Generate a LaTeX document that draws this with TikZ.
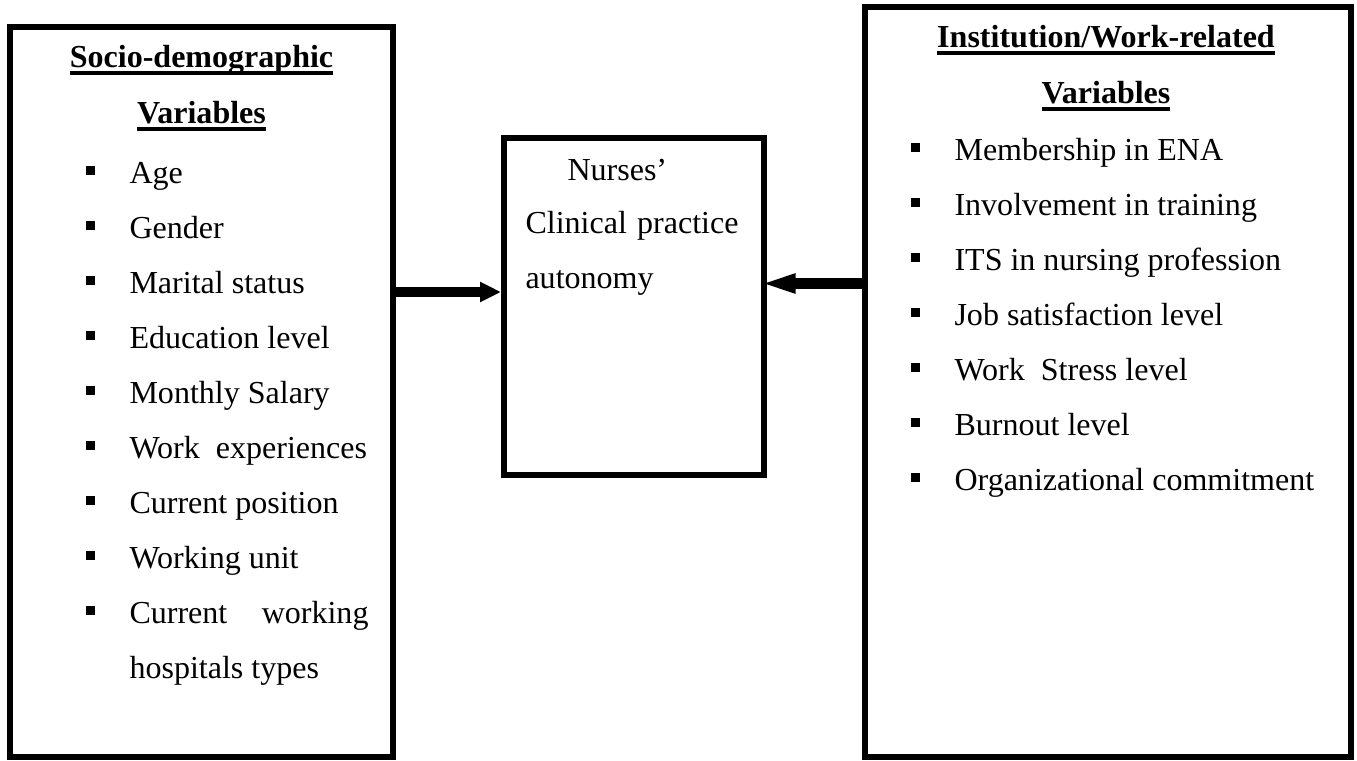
\documentclass[tikz,border=0pt]{standalone}
\usepackage{fontspec}
\setmainfont{Liberation Serif}
\usetikzlibrary{arrows.meta}
\newlength\px
\setlength\px{0.3871pt}
% underline at a fixed depth, through the descenders, as the word processor does
\newcommand{\ulined}[1]{\setbox0\hbox{#1}\rlap{\rule[-7.5\px]{\wd0}{4\px}}\box0}
\newcommand{\itm}{\rule[8\px]{9\px}{9\px}\hspace{35\px}}
\tikzset{
  box/.style={draw,line width=6\px,inner sep=0pt},
  txt/.style={anchor=base west,inner sep=0pt,font=\fontsize{12.4}{14}\selectfont},
  ttl/.style={anchor=base,inner sep=0pt,font=\fontsize{12.4}{14}\selectfont\bfseries},
}
\begin{document}
\begin{tikzpicture}[x=\px,y=-\px]
  \useasboundingbox (0,0) rectangle (1357,760);
  % the three boxes
  \node[box,minimum width=383\px,minimum height=730.5\px] (socio) at (201.5,391.75) {};
  \node[box,minimum width=259.5\px,minimum height=337.5\px] (nca) at (633.75,306.25) {};
  \node[box,minimum width=486\px,minimum height=750.5\px] (work) at (1108,381.75) {};
  % left box
  \node[ttl] (sdt1) at (201.5,67) {\ulined{Socio-demographic}};
  \node[ttl] (sdt2) at (201.5,123) {\ulined{Variables}};
  \node[txt] (sd1) at (85,183) {\itm Age};
  \node[txt] (sd2) at (85,238) {\itm Gender};
  \node[txt] (sd3) at (85,293) {\itm Marital status};
  \node[txt] (sd4) at (85,348) {\itm Education level};
  \node[txt] (sd5) at (85,403) {\itm Monthly Salary};
  \node[txt] (sd6) at (85,458) {\itm Work\ \ experiences};
  \node[txt] (sd7) at (85,513) {\itm Current position};
  \node[txt] (sd8) at (85,568) {\itm Working unit};
  \node[txt] (sd9) at (85,623) {\itm \makebox[239\px][s]{Current working}};
  \node[txt] (sd10) at (129,678) {hospitals types};
  % middle box
  \node[txt] (nca1) at (567,180) {Nurses’};
  \node[txt] (nca2) at (525,233) {\makebox[213\px][s]{Clinical practice}};
  \node[txt] (nca3) at (525,288) {autonomy};
  % right box
  \node[ttl] (wrt1) at (1106,47) {\ulined{Institution/Work-related}};
  \node[ttl] (wrt2) at (1106,103) {\ulined{Variables}};
  \node[txt] (wr1) at (910,160) {\itm Membership in ENA};
  \node[txt] (wr2) at (910,215) {\itm Involvement in training};
  \node[txt] (wr3) at (910,270) {\itm ITS in nursing profession};
  \node[txt] (wr4) at (910,325) {\itm Job satisfaction level};
  \node[txt] (wr5) at (910,380) {\itm Work\ \ Stress level};
  \node[txt] (wr6) at (910,435) {\itm Burnout level};
  \node[txt] (wr7) at (910,490) {\itm Organizational commitment};
  % arrows
  \draw[line width=3.87pt,-{Triangle[length=8.13pt,width=7.35pt]}] (socio.east |- 0,292) -- (nca.west |- 0,292);
  \draw[line width=4.26pt,-{Triangle[length=14.32pt,width=6.58pt]}] (work.west |- 0,283.5) -- ([xshift=-8\px]nca.east |- 0,283.5);
\end{tikzpicture}
\end{document}
